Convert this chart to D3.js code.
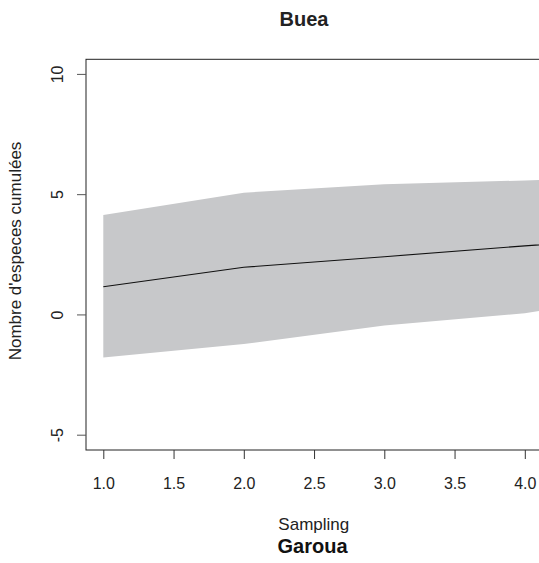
<!DOCTYPE html>
<html><head><meta charset="utf-8">
<script src="https://cdn.jsdelivr.net/npm/d3@7"></script>
<style>body{margin:0;background:#fff;} svg{display:block;font-family:"Liberation Sans",Arial,sans-serif;}</style>
</head><body>
<svg id="c" width="539" height="563"></svg>
<script>
const sampling = [1, 2, 3, 4, 5];
const meanSpecies = [1.15, 1.96, 2.40, 2.85, 3.25];
const upperBand = [4.13, 5.06, 5.41, 5.57, 5.75];
const lowerBand = [-1.79, -1.23, -0.46, 0.05, 1.0];
const xTicks = [1.0, 1.5, 2.0, 2.5, 3.0, 3.5, 4.0];
const yTicks = [-5, 0, 5, 10];
const title = "Buea";
const xLabel = "Sampling";
const yLabel = "Nombre d'especes cumulées";
const subTitle = "Garoua";

const data = sampling.map((s, i) => ({s, m: meanSpecies[i], u: upperBand[i], l: lowerBand[i]}));
const svg = d3.select("#c");
const x = d3.scaleLinear().domain([1, 4]).range([103.3, 524.8]);
const y = d3.scaleLinear().domain([-5, 10]).range([434.7, 73.9]);
const box = {l: 86, t: 59.3, b: 450, r: 600};

svg.append("path").datum(data)
  .attr("d", d3.area().x(d => x(d.s)).y0(d => y(d.l)).y1(d => y(d.u)))
  .attr("fill", "#c7c8ca");
svg.append("path").datum(data)
  .attr("d", d3.line().x(d => x(d.s)).y(d => y(d.m)))
  .attr("fill", "none").attr("stroke", "#111").attr("stroke-width", 1.1);

svg.append("rect").attr("x", box.l).attr("y", box.t)
  .attr("width", box.r - box.l).attr("height", box.b - box.t)
  .attr("fill", "none").attr("stroke", "#222").attr("stroke-width", 1);

// axes
const xAxis = d3.axisBottom(x).tickValues(xTicks).tickFormat(d3.format(".1f")).tickSize(9).tickPadding(19);
const gx = svg.append("g").attr("transform", `translate(0,${box.b})`).call(xAxis);
gx.select(".domain").remove();
gx.selectAll("line").attr("stroke", "#333");
gx.selectAll("text").attr("font-size", 16).attr("fill", "#222")
  .attr("font-family", "Liberation Sans, Arial, sans-serif").attr("dy", "0.71em");

const yAxis = d3.axisLeft(y).tickValues(yTicks).tickFormat(d => String(d)).tickSize(9);
const gy = svg.append("g").attr("transform", `translate(${box.l},0)`).call(yAxis);
gy.select(".domain").remove();
gy.selectAll("line").attr("stroke", "#555");
gy.selectAll("text").attr("font-size", 16).attr("fill", "#222")
  .attr("font-family", "Liberation Sans, Arial, sans-serif")
  .attr("x", null).attr("dy", null).attr("text-anchor", "middle")
  .attr("transform", "translate(-23.5,0) rotate(-90)");

svg.append("text").attr("x", 304).attr("y", 26).attr("text-anchor", "middle")
  .attr("font-size", 20).attr("font-weight", "bold").attr("fill", "#222").text(title);
svg.append("text").attr("x", 313.8).attr("y", 530).attr("text-anchor", "middle")
  .attr("font-size", 17).attr("fill", "#222").text(xLabel);
svg.append("text").attr("x", 312.5).attr("y", 553).attr("text-anchor", "middle")
  .attr("font-size", 20).attr("font-weight", "bold").attr("fill", "#111").text(subTitle);
svg.append("text").attr("transform", `translate(21,251) rotate(-90)`).attr("text-anchor", "middle")
  .attr("font-size", 17).attr("fill", "#222").text(yLabel);
</script>
</body></html>
